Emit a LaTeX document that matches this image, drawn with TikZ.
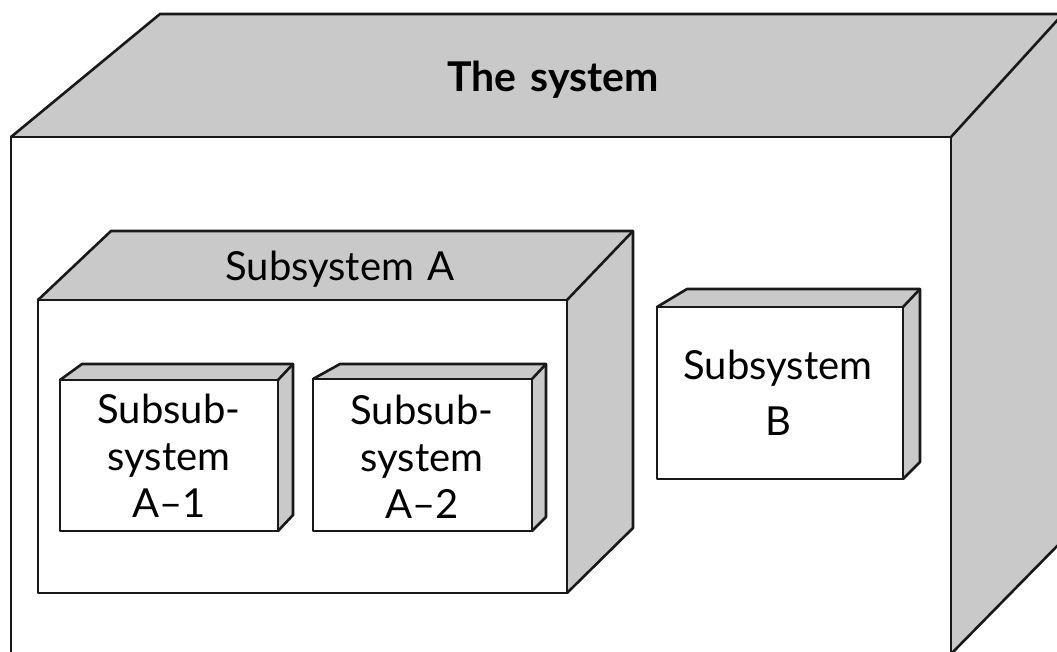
\documentclass[tikz,border=0pt]{standalone}
\usepackage{fontspec}
\setmainfont{Lato}
\tikzset{
  face/.style={fill=boxgray},
  edge/.style={draw=black!90, line width=2.6pt, line join=round, line cap=round},
  lbl/.style={text width=300pt, align=center, anchor=base, inner sep=0pt},
}
\definecolor{boxgray}{HTML}{C9C9C9}
% Oblique box: front face (#1,#2)-(#3,#4), back-left top x #5,
% back top y #6, back right x #7, back-right bottom y #8.
\newcommand{\oblbox}[8]{%
  \fill[face] (#1,#2) -- (#5,#6) -- (#7,#6) -- (#3,#2) -- cycle;
  \fill[face] (#3,#2) -- (#7,#6) -- (#7,#8) -- (#3,#4) -- cycle;
  \fill[white] (#1,#2) rectangle (#3,#4);
  \draw[edge] (#1,#2) rectangle (#3,#4);
  \draw[edge] (#1,#2) -- (#5,#6) -- (#7,#6) -- (#7,#8) -- (#3,#4);
  \draw[edge] (#3,#2) -- (#7,#6);
}
\begin{document}
\begin{tikzpicture}[x=1pt, y=-1pt]
  \useasboundingbox (0,0) rectangle (1057,652);
  \fill[white] (0,0) rectangle (1057,652);
  \clip (0,0) rectangle (1057,652);

  % the whole system
  \oblbox{11}{137}{951}{654}{160}{14}{1063}{540}
  % subsystem A and its two parts
  \oblbox{38}{300}{567}{593}{111}{231}{633}{528}
  \oblbox{60}{380}{278}{531}{82}{364}{293}{515}
  \oblbox{313}{379}{532}{531}{340}{364}{546}{517}
  % subsystem B
  \oblbox{657}{307}{903}{479}{687}{289}{920}{462}

  \node[lbl, font=\fontsize{41}{48}\selectfont\bfseries] (sys) at (553,92) {The system};
  \node[lbl, font=\fontsize{40}{47}\selectfont] (subA) at (340,280) {Subsystem A};
  \node[lbl, font=\fontsize{40}{47}\selectfont] (subA1) at (169,423) {Subsub-\\system\\A--1};
  \node[lbl, font=\fontsize{40}{47}\selectfont] (subA2) at (422,424) {Subsub-\\system\\A--2};
  \node[lbl, font=\fontsize{40}{56}\selectfont] (subB) at (778,379) {Subsystem\\B};
\end{tikzpicture}
\end{document}
